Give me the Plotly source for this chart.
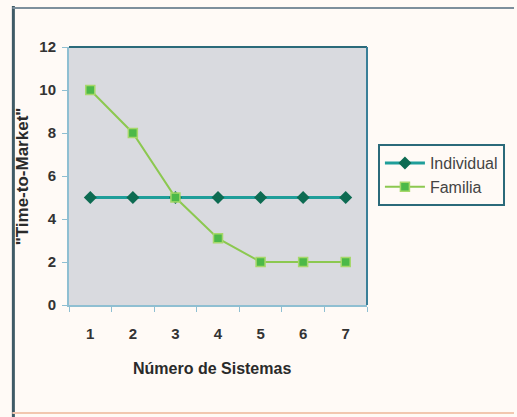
import plotly.graph_objects as go

categories = ["1", "2", "3", "4", "5", "6", "7"]
individual = [5, 5, 5, 5, 5, 5, 5]
familia = [10, 8, 5, 3.1, 2, 2, 2]
y_ticks = [0, 2, 4, 6, 8, 10, 12]

fig = go.Figure()
fig.add_trace(go.Scatter(
    x=categories, y=individual, name="Individual", mode="lines+markers",
    line=dict(color="#1f9e9a", width=3),
    marker=dict(symbol="diamond", size=10, color="#0d6b52", line=dict(width=0)),
))
fig.add_trace(go.Scatter(
    x=categories, y=familia, name="Familia", mode="lines+markers",
    line=dict(color="#8cc850", width=2),
    marker=dict(symbol="square", size=9, color="#4cb948", line=dict(color="#a6d86a", width=1.5)),
))

W, H = 517, 417
L, R, T, B = 69, 369, 47, 305
pw, ph = R - L, B - T

def px(x):
    return (x - L) / pw

def py(y):
    return (B - y) / ph

shapes = [
    # outer frame
    dict(type="line", xref="paper", yref="paper", x0=px(13), x1=px(13), y0=py(6), y1=py(417),
         line=dict(color="#3f5a66", width=3)),
    dict(type="line", xref="paper", yref="paper", x0=px(12), x1=px(517), y0=py(8), y1=py(8),
         line=dict(color="#7d8f9c", width=2)),
    dict(type="line", xref="paper", yref="paper", x0=px(12), x1=px(517), y0=py(413), y1=py(413),
         line=dict(color="#f2c7b0", width=2)),
    # plot area border top/right
    dict(type="line", xref="paper", yref="paper", x0=0, x1=1, y0=1, y1=1,
         line=dict(color="#2b6a7a", width=2)),
    dict(type="line", xref="paper", yref="paper", x0=1, x1=1, y0=0, y1=1,
         line=dict(color="#3a7f98", width=2)),
]

fig.update_layout(
    width=W, height=H,
    margin=dict(l=L, r=W - R, t=T, b=H - B),
    paper_bgcolor="#fffaf6",
    plot_bgcolor="#d9dadf",
    font=dict(family="Liberation Sans, Arial, sans-serif", size=15, color="#333333"),
    showlegend=True,
    legend=dict(
        x=px(380), y=py(144), xanchor="left", yanchor="top",
        bordercolor="#2b6a7a", borderwidth=2, bgcolor="#fffaf6",
        font=dict(size=16, color="#444444"),
        itemwidth=40, tracegroupgap=0,
    ),
    shapes=shapes,
    annotations=[
        dict(text="<b>Número de Sistemas</b>", xref="paper", yref="paper",
             x=px(213), y=py(368), xanchor="center", yanchor="middle",
             showarrow=False, font=dict(size=16, color="#2a2a2a")),
        dict(text='<b>"Time-to-Market"</b>', xref="paper", yref="paper",
             x=px(22), y=py(176), xanchor="center", yanchor="middle",
             showarrow=False, textangle=-90,
             font=dict(size=17, color="#2a2a2a")),
    ],
)
fig.update_xaxes(
    type="category", range=[-0.5, 6.5], showgrid=False, zeroline=False, automargin=False,
    showline=True, linecolor="#8fbfd2", linewidth=2,
    ticks="outside", tickson="boundaries", ticklen=5, tickcolor="#8fbfd2",
    tickfont=dict(size=15, color="#333333", weight="bold"),
    ticklabelstandoff=14,
)
fig.update_yaxes(
    range=[0, 12], tickvals=y_ticks, showgrid=False, zeroline=False, automargin=False,
    showline=True, linecolor="#8fbfd2", linewidth=2,
    ticks="outside", ticklen=5, tickcolor="#8fbfd2",
    tickfont=dict(size=15, color="#333333", weight="bold"),
    ticklabelstandoff=3,
)

fig.write_html("out.html", config={"displayModeBar": False},
               post_script="document.body.style.margin='0';")
